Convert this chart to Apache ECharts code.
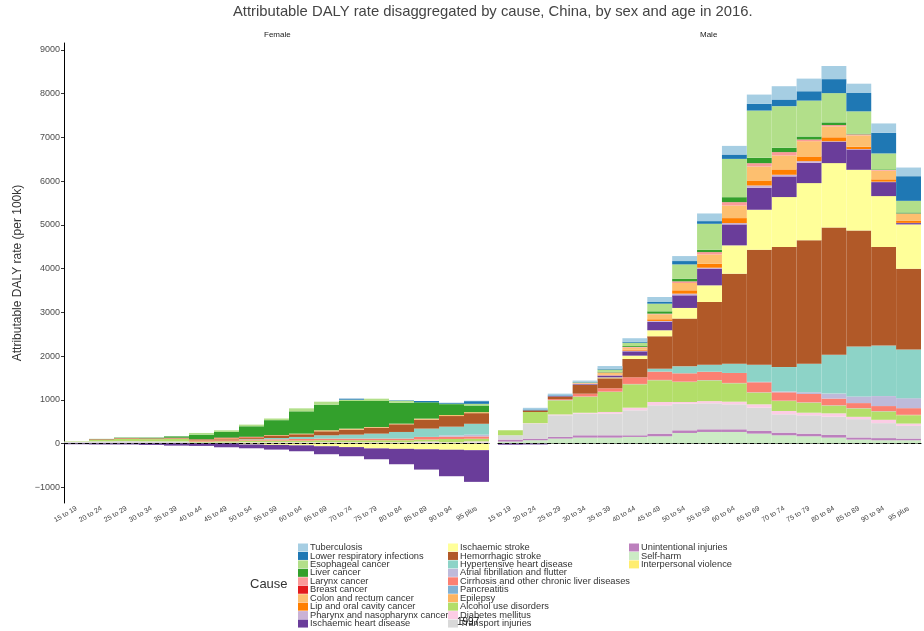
<!DOCTYPE html>
<html>
<head>
<meta charset="utf-8">
<script src="https://cdn.jsdelivr.net/npm/echarts@6/dist/echarts.min.js"></script>
<style>
  html, body { margin: 0; padding: 0; background: #fff; }
  #chart { width: 924px; height: 631px; }
</style>
</head>
<body>
<div id="chart"></div>
<script>
const ages = ['15 to 19', '20 to 24', '25 to 29', '30 to 34', '35 to 39', '40 to 44', '45 to 49', '50 to 54',
  '55 to 59', '60 to 64', '65 to 69', '70 to 74', '75 to 79', '80 to 84', '85 to 89', '90 to 94', '95 plus'];
const yTicks = [-1000, 0, 1000, 2000, 3000, 4000, 5000, 6000, 7000, 8000, 9000];

// female, by age group
const fTB  = [0, 0, 0, 0, 0, 0, 0, 0, 0, 0, 0, 0, 0, 0, 0, 5, 10];
const fLRI = [0, 0, 0, 0, 0, 0, 0, 0, 0, 0, 0, 23, 0, 10, 30, 18, 61];
const fESO = [0, 0, 0, 0, 0, 38, 38, 38, 38, 68, 68, 30, 53, 46, 0, 10, 38];
const fLIV = [0, 5, 10, 15, 30, 107, 129, 240, 342, 510, 586, 632, 594, 477, 373, 249, 152];
const fLAR = [0, 0, 0, 0, 0, 0, 0, 0, 0, 0, 0, 0, 0, 0, 0, 0, 0];
const fBRE = [0, 0, 0, 0, 0, 10, 15, 15, 5, 0, 0, 0, 0, 0, 0, 0, 0];
const fCOL = [0, 0, 0, 0, 0, 13, 23, 15, 15, 15, 23, 23, 15, 15, 23, 23, 23];
const fLIP = [0, 0, 0, 0, 0, 0, 0, 0, 0, 0, 0, 0, 0, 0, 0, 0, 0];
const fPHX = [0, 0, 0, 0, 0, 0, 0, 0, 0, 0, 0, 0, 0, 0, 0, 0, 0];
const fIHD = [-15, -20, -20, -30, -46, -53, -84, -87, -107, -135, -183, -209, -248, -352, -464, -606, -725];
const fIS  = [0, 0, 0, 0, 0, 0, 0, -20, -30, -40, -60, -80, -110, -120, -130, -140, -150];
const fHS  = [0, 10, 10, 10, 15, 15, 23, 25, 46, 61, 91, 114, 137, 175, 205, 243, 243];
const fHHD = [0, 0, 0, 0, 0, 0, 0, 10, 30, 46, 76, 91, 114, 152, 190, 200, 249];
const fAF  = [0, 0, 0, 0, 0, 0, 0, 0, 0, 0, 0, 0, 0, 0, 0, 28, 40];
const fCIR = [0, 5, 10, 10, 10, 15, 23, 23, 30, 38, 38, 38, 38, 38, 61, 53, 53];
const fPAN = [0, 0, 0, 0, 0, 0, 0, 0, 0, 0, 0, 0, 0, 0, 0, 0, 0];
const fEPI = [0, 0, 0, 0, 0, 0, 0, 0, 0, 0, 0, 0, 0, 0, 0, 0, 0];
const fALC = [10, 35, 50, 50, 60, 23, 30, 38, 38, 38, 46, 46, 46, 46, 46, 76, 61];
const fDM  = [0, 0, 0, 0, 0, 5, 5, 8, 8, 8, 8, 8, 8, 8, 15, 10, 20];
const fTI  = [25, 30, 35, 30, 30, 10, 10, 12, 12, 12, 12, 12, 12, 12, 15, 10, 15];
const fUI  = [8, 10, 10, 10, 10, 4, 4, 5, 5, 5, 5, 5, 5, 5, 8, 5, 8];
const fSH  = [10, 12, 12, 12, 10, 3, 4, 5, 5, 5, 5, 5, 5, 5, 8, 5, 7];
const fIV  = [0, 0, 0, 0, 0, 0, 0, 0, 0, 0, 0, 0, 0, 0, 0, 0, 0];

// male, by age group
const mTB  = [0, 38, 40, 30, 60, 80, 114, 114, 175, 198, 213, 304, 289, 300, 213, 213, 198];
const mLRI = [0, 20, 15, 10, 20, 23, 38, 76, 61, 99, 152, 152, 213, 320, 419, 472, 563];
const mESO = [0, 0, 0, 10, 50, 76, 175, 327, 594, 875, 1081, 951, 822, 669, 510, 365, 266];
const mLIV = [0, 0, 0, 5, 15, 20, 53, 61, 53, 114, 122, 99, 68, 61, 15, 15, 23];
const mLAR = [0, 0, 0, 5, 10, 15, 15, 38, 53, 76, 76, 76, 38, 30, 25, 15, 10];
const mBRE = [0, 0, 0, 0, 0, 0, 0, 0, 0, 0, 0, 0, 0, 0, 0, 0, 0];
const mCOL = [0, 0, 0, 10, 40, 50, 114, 167, 213, 289, 320, 320, 350, 250, 260, 198, 152];
const mLIP = [0, 0, 0, 5, 15, 20, 38, 76, 91, 114, 114, 122, 107, 90, 53, 53, 53];
const mPHX = [0, 0, 0, 5, 10, 15, 23, 38, 30, 30, 53, 38, 38, 10, 10, 10, 5];
const mIHD = [-25, -20, 10, 15, 40, 99, 190, 289, 373, 479, 502, 472, 464, 490, 464, 320, 30];
const mIS  = [0, 0, 0, 5, 20, 76, 137, 243, 380, 647, 913, 1142, 1309, 1469, 1385, 1164, 1012];
const mHS  = [0, 38, 60, 200, 228, 419, 742, 1092, 1434, 2059, 2629, 2744, 2820, 2911, 2652, 2249, 1845];
const mHHD = [0, 0, 0, 0, 0, 0, 66, 159, 161, 211, 392, 557, 652, 889, 1144, 1159, 1116];
const mAF  = [0, 0, 0, 0, 0, 0, 0, 0, 0, 0, 10, 20, 40, 114, 152, 228, 228];
const mCIR = [0, 0, 20, 61, 76, 152, 190, 190, 190, 228, 228, 190, 190, 152, 114, 114, 152];
const mPAN = [0, 0, 5, 5, 5, 5, 5, 5, 5, 5, 5, 5, 5, 5, 5, 5, 5];
const mEPI = [0, 0, 5, 10, 5, 5, 5, 5, 5, 5, 5, 5, 5, 5, 5, 5, 5];
const mALC = [114, 256, 320, 360, 456, 533, 495, 456, 472, 419, 266, 228, 228, 175, 190, 190, 190];
const mDM  = [0, 10, 20, 20, 38, 60, 76, 38, 50, 60, 76, 76, 60, 76, 53, 76, 53];
const mTI  = [99, 342, 495, 495, 495, 571, 647, 609, 594, 571, 533, 418, 418, 418, 418, 342, 289];
const mUI  = [46, 38, 38, 53, 53, 38, 61, 61, 61, 61, 61, 61, 61, 61, 50, 50, 40];
const mSH  = [46, 76, 114, 137, 137, 152, 167, 243, 266, 266, 228, 190, 167, 137, 91, 76, 76];
const mIV  = [0, 0, 0, 0, 0, 0, 0, 0, 0, 0, 0, 0, 0, 0, 0, 0, 0];

// legend order (top of stack first)
const causes = [
  ['Tuberculosis', '#a6cee3', fTB, mTB],
  ['Lower respiratory infections', '#1f78b4', fLRI, mLRI],
  ['Esophageal cancer', '#b2df8a', fESO, mESO],
  ['Liver cancer', '#33a02c', fLIV, mLIV],
  ['Larynx cancer', '#fb9a99', fLAR, mLAR],
  ['Breast cancer', '#e31a1c', fBRE, mBRE],
  ['Colon and rectum cancer', '#fdbf6f', fCOL, mCOL],
  ['Lip and oral cavity cancer', '#ff7f00', fLIP, mLIP],
  ['Pharynx and nasopharynx cancer', '#cab2d6', fPHX, mPHX],
  ['Ischaemic heart disease', '#6a3d9a', fIHD, mIHD],
  ['Ischaemic stroke', '#ffff99', fIS, mIS],
  ['Hemorrhagic stroke', '#b15928', fHS, mHS],
  ['Hypertensive heart disease', '#8dd3c7', fHHD, mHHD],
  ['Atrial fibrillation and flutter', '#bebada', fAF, mAF],
  ['Cirrhosis and other chronic liver diseases', '#fb8072', fCIR, mCIR],
  ['Pancreatitis', '#80b1d3', fPAN, mPAN],
  ['Epilepsy', '#fdb462', fEPI, mEPI],
  ['Alcohol use disorders', '#b3de69', fALC, mALC],
  ['Diabetes mellitus', '#fccde5', fDM, mDM],
  ['Transport injuries', '#d9d9d9', fTI, mTI],
  ['Unintentional injuries', '#bc80bd', fUI, mUI],
  ['Self-harm', '#ccebc5', fSH, mSH],
  ['Interpersonal violence', '#ffed6f', fIV, mIV]
];

const FONT = '"Liberation Sans", Arial, sans-serif';
const chart = echarts.init(document.getElementById('chart'));

const zeroLine = {
  silent: true,
  symbol: ['none', 'none'],
  label: { show: false },
  lineStyle: { color: '#000', type: [4, 3], width: 1 },
  data: [{ yAxis: 0 }]
};

const series = [];
causes.slice().reverse().forEach((c, i) => {
  [0, 1].forEach((panel) => {
    series.push({
      name: c[0],
      type: 'bar',
      xAxisIndex: panel,
      yAxisIndex: panel,
      stack: panel === 0 ? 'female' : 'male',
      barWidth: '100%',
      barCategoryGap: '0%',
      itemStyle: { color: c[1] },
      emphasis: { disabled: true },
      data: panel === 0 ? c[2] : c[3],
      markLine: i === causes.length - 1 ? zeroLine : undefined,
      z: 2
    });
  });
});

const xAxisBase = {
  type: 'category',
  data: ages,
  axisLine: { lineStyle: { color: '#000', width: 1 } },
  axisTick: { length: 3, alignWithLabel: true, lineStyle: { color: '#333' } },
  axisLabel: { rotate: 30, fontSize: 7, color: '#444', margin: 5, interval: 0, fontFamily: FONT }
};

const yAxisBase = {
  type: 'value',
  min: -1358,
  max: 9158,
  splitNumber: 10,
  splitLine: { show: false }
};

const legendBase = {
  orient: 'vertical',
  icon: 'rect',
  itemWidth: 10,
  itemHeight: 8,
  itemGap: -0.55,
  top: 543,
  height: 120,
  padding: 0,
  selectedMode: false,
  itemStyle: { borderWidth: 0 },
  textStyle: { fontSize: 9.3, color: '#333', lineHeight: 8, fontFamily: FONT, padding: [0, 0, 0, -3] }
};

chart.setOption({
  backgroundColor: '#fff',
  animation: false,
  grid: [
    { left: 64, top: 43, width: 425, height: 460 },
    { left: 498, top: 43, width: 423, height: 460 }
  ],
  xAxis: [
    Object.assign({ gridIndex: 0 }, xAxisBase),
    Object.assign({ gridIndex: 1 }, xAxisBase)
  ],
  yAxis: [
    Object.assign({
      gridIndex: 0,
      name: 'Attributable DALY rate (per 100k)',
      nameLocation: 'middle',
      nameGap: 40,
      nameTextStyle: { fontSize: 12, color: '#333', fontFamily: FONT },
      axisLine: { show: true, lineStyle: { color: '#000', width: 1 } },
      axisTick: { show: true, length: 3, lineStyle: { color: '#333' } },
      axisLabel: {
        fontSize: 9, color: '#4d4d4d', margin: 4, fontFamily: FONT,
        showMinLabel: false, showMaxLabel: false,
        formatter: (v) => (yTicks.indexOf(v) >= 0 ? String(v).replace('-', '\u2212') : '')
      }
    }, yAxisBase),
    Object.assign({
      gridIndex: 1,
      axisLine: { show: false },
      axisTick: { show: false },
      axisLabel: { show: false }
    }, yAxisBase)
  ],
  legend: [
    Object.assign({ left: 298, data: causes.slice(0, 10).map((c) => c[0]) }, legendBase),
    Object.assign({ left: 448, data: causes.slice(10, 20).map((c) => c[0]) }, legendBase),
    Object.assign({ left: 629, data: causes.slice(20).map((c) => c[0]) }, legendBase)
  ],
  graphic: [
    { type: 'text', left: 233, top: 4, style: { text: 'Attributable DALY rate disaggregated by cause, China, by sex and age in 2016.', fontSize: 14.8, fill: '#444', fontFamily: FONT } },
    { type: 'text', left: 264, top: 31, style: { text: 'Female', fontSize: 8, fill: '#1a1a1a', fontFamily: FONT } },
    { type: 'text', left: 700, top: 31, style: { text: 'Male', fontSize: 8, fill: '#1a1a1a', fontFamily: FONT } },
    { type: 'text', left: 250, top: 578, style: { text: 'Cause', fontSize: 13, fill: '#333', fontFamily: FONT } },
    { type: 'text', left: 457, top: 617, z: 100, style: { text: '1997', fontSize: 10, fill: '#111', fontFamily: FONT } }
  ],
  series: series
});
</script>
</body>
</html>
